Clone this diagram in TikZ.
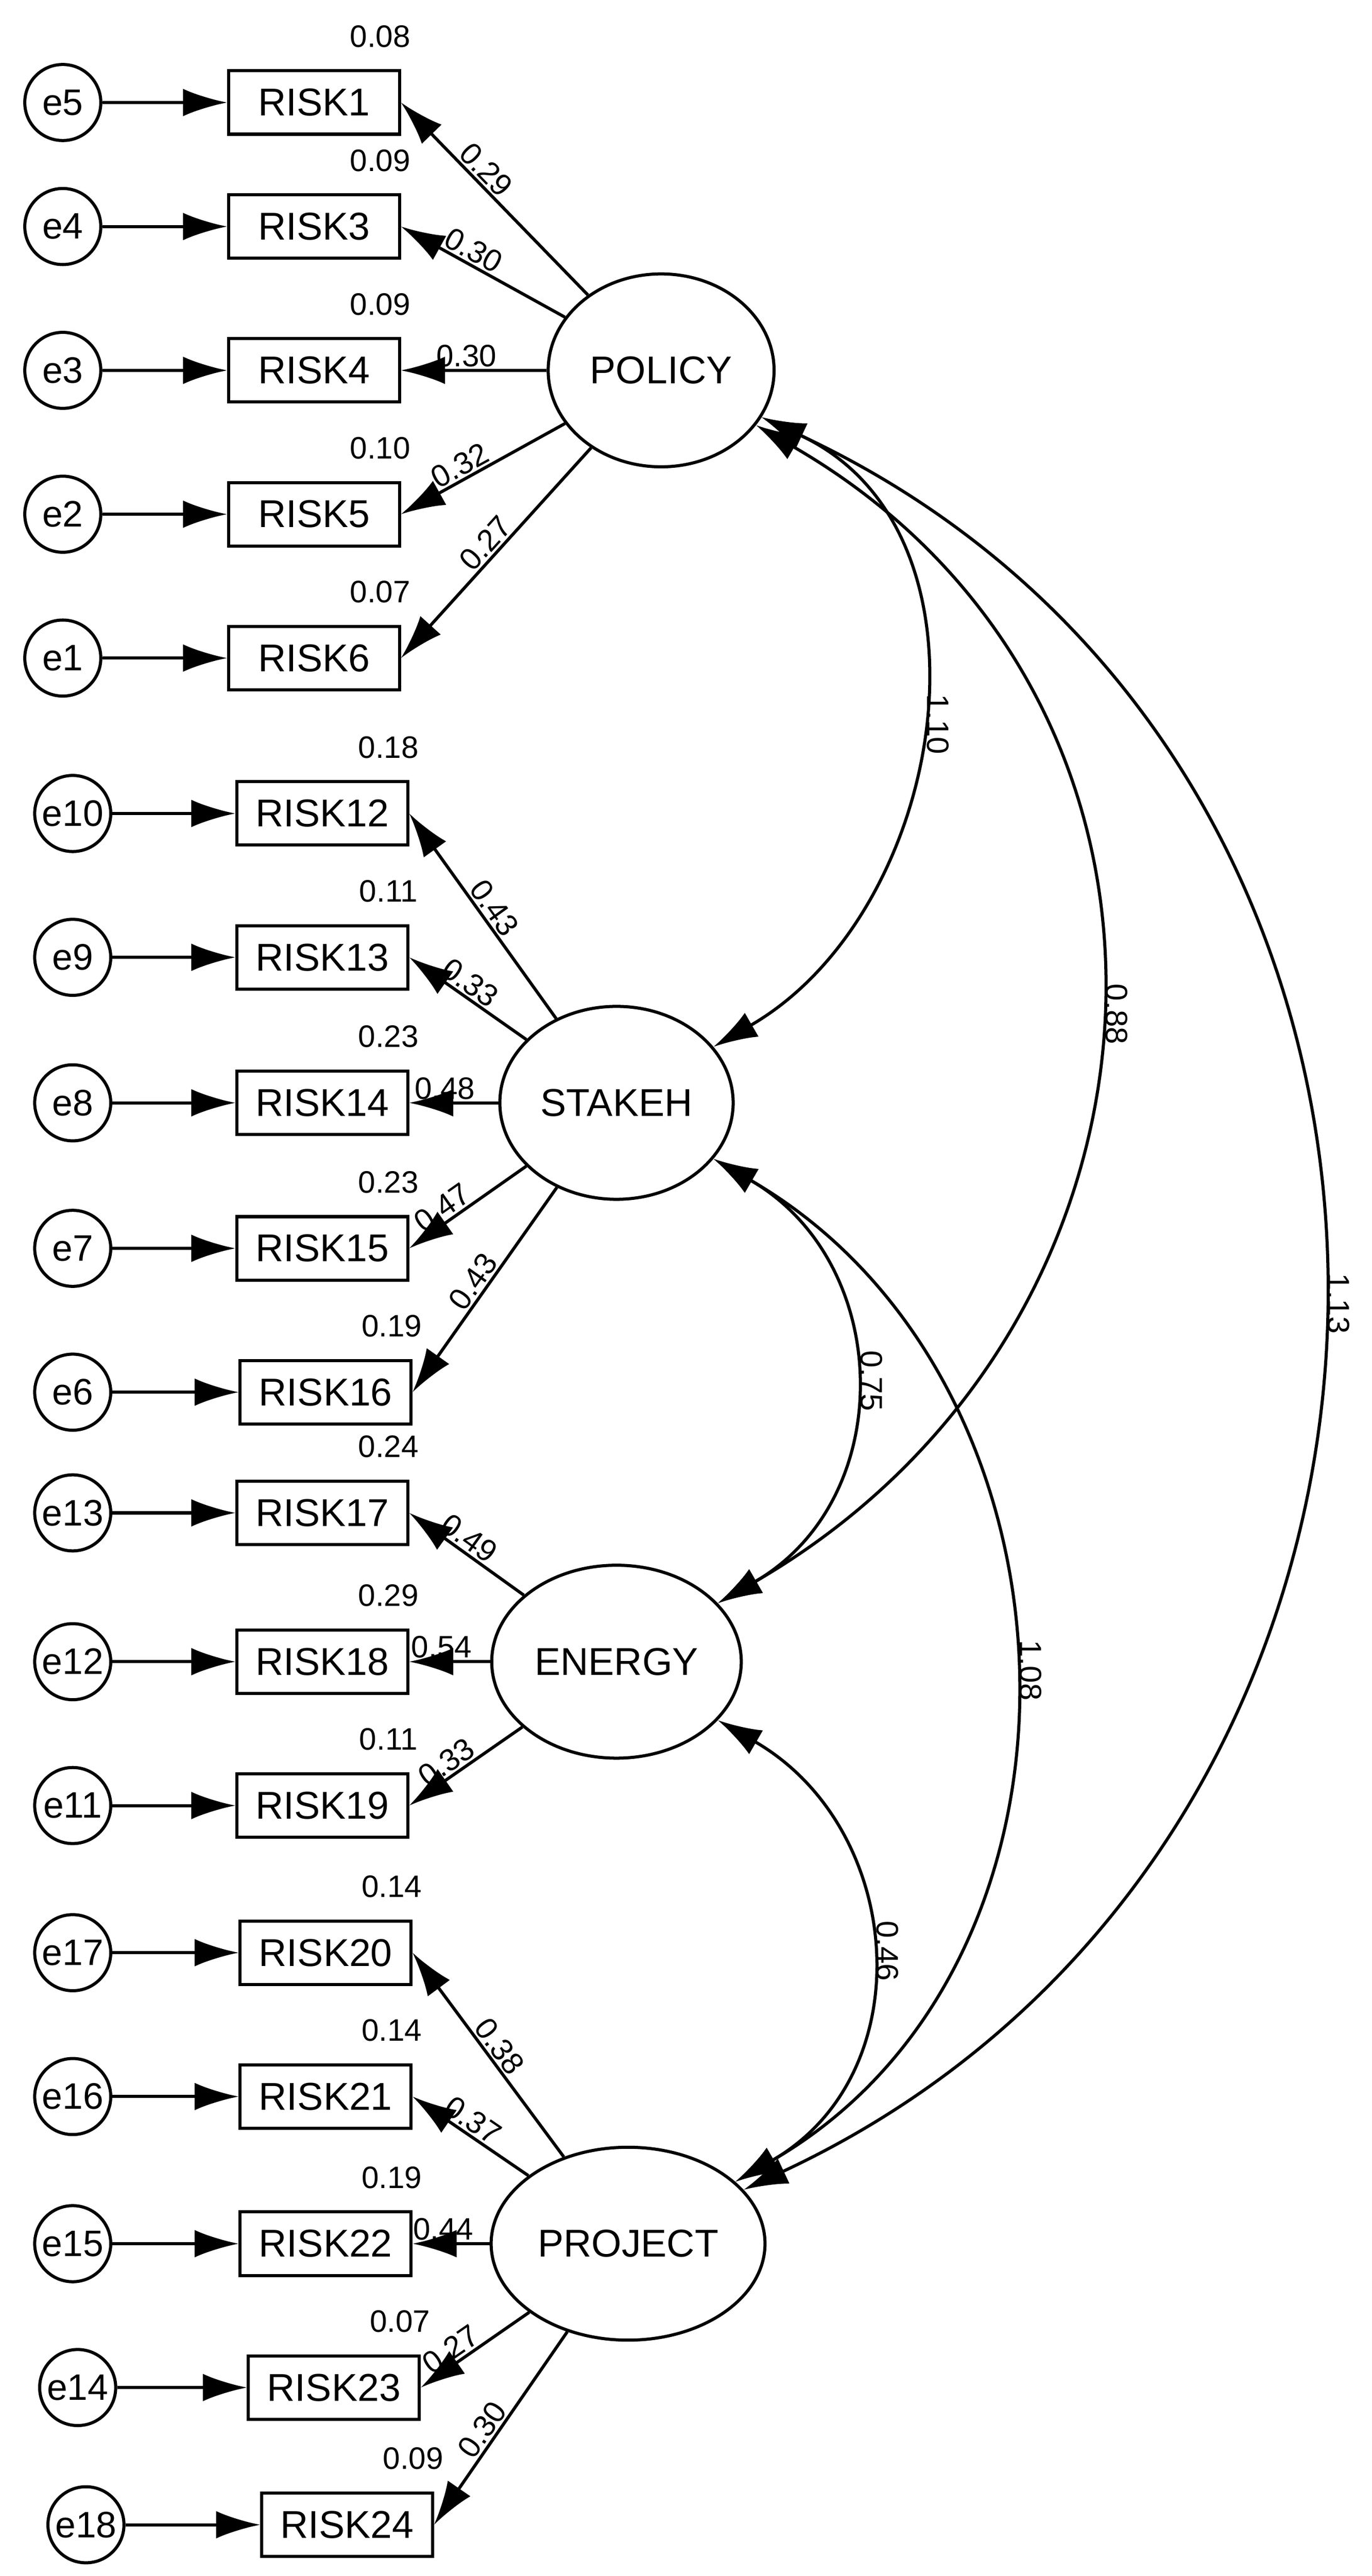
\documentclass[tikz,border=0pt]{standalone}
\usepackage{fontspec}
\setmainfont{Liberation Sans}
\usetikzlibrary{arrows.meta,shapes.geometric}
\begin{document}
\begin{tikzpicture}[
    x=0.03cm, y=-0.03cm,
    err/.style = {draw, circle, line width=1.6pt, minimum size=1.38cm, inner sep=0pt, font=\fontsize{19}{19}\selectfont},
    obs/.style = {draw, rectangle, line width=1.6pt, minimum width=3.1cm, minimum height=1.15cm, font=\fontsize{20}{20}\selectfont},
    lat/.style = {draw, ellipse, line width=1.6pt, minimum width=4.1cm, minimum height=3.5cm, font=\fontsize{20}{20}\selectfont},
    arr/.style = {-{Latex[length=0.8cm,width=0.5cm]}, line width=1.6pt},
    cov/.style = {{Latex[length=0.8cm,width=0.5cm]}-{Latex[length=0.8cm,width=0.5cm]}, line width=1.6pt},
    num/.style = {font=\fontsize{16}{16}\selectfont, inner sep=1pt},
    cnum/.style = {num, rotate=-90, anchor=south, inner sep=4pt}
  ]
  \useasboundingbox (0,0) rectangle (830,1558);

  % latent factors
  \node[lat] (policy) at (400,224) {POLICY};
  \node[lat] (stakeh) at (373,667) {STAKEH};
  \node[lat] (energy) at (373,1005) {ENERGY};
  \node[lat] (project) at (380,1357) {PROJECT};

  % indicators: error / box / latent / variance / loading / pos
  \foreach \e/\r/\ex/\rx/\y/\lat/\var/\ld/\p in {
      e5/RISK1/38/190/62/policy/0.08/0.29/0.6,
      e4/RISK3/38/190/137/policy/0.09/0.30/0.6,
      e3/RISK4/38/190/224/policy/0.09/0.30/0.55,
      e2/RISK5/38/190/311/policy/0.10/0.32/0.6,
      e1/RISK6/38/190/398/policy/0.07/0.27/0.5,
      e10/RISK12/44/195/492/stakeh/0.18/0.43/0.5,
      e9/RISK13/44/195/579/stakeh/0.11/0.33/0.55,
      e8/RISK14/44/195/667/stakeh/0.23/0.48/0.6,
      e7/RISK15/44/195/755/stakeh/0.23/0.47/0.65,
      e6/RISK16/44/197/842/stakeh/0.19/0.43/0.5,
      e13/RISK17/44/195/915/energy/0.24/0.49/0.55,
      e12/RISK18/44/195/1005/energy/0.29/0.54/0.6,
      e11/RISK19/44/195/1092/energy/0.11/0.33/0.6,
      e17/RISK20/44/197/1181/project/0.14/0.38/0.5,
      e16/RISK21/44/197/1268/project/0.14/0.37/0.55,
      e15/RISK22/44/197/1357/project/0.19/0.44/0.6,
      e14/RISK23/47/202/1444/project/0.07/0.27/0.65,
      e18/RISK24/52/210/1527/project/0.09/0.30/0.55} {
    \node[err] (\e) at (\ex,\y) {\e};
    \node[obs] (\r) at (\rx,\y) {\r};
    \node[num] at (\rx+40,\y-40) {\var};
    \draw[arr] (\e) -- (\r);
    \draw[arr] (\lat) -- node[num, sloped, above, pos=\p] {\ld} (\r.east);
  }

  % covariances
  \draw[cov] (policy) to[out=-25, in=30, looseness=1.1] node[cnum, pos=0.5] {1.10} (stakeh);
  \draw[cov] (policy) to[out=-30, in=30, looseness=1.2] node[cnum, pos=0.5] {0.88} (energy);
  \draw[cov] (policy) to[out=-25, in=25, looseness=1.2] node[cnum, pos=0.5] {1.13} (project);
  \draw[cov] (stakeh) to[out=-30, in=30, looseness=1.2] node[cnum, pos=0.5] {0.75} (energy);
  \draw[cov] (stakeh) to[out=-30, in=30, looseness=1.1] node[cnum, pos=0.5] {1.08} (project);
  \draw[cov] (energy) to[out=-30, in=30, looseness=1.2] node[cnum, pos=0.5] {0.46} (project);
\end{tikzpicture}
\end{document}
